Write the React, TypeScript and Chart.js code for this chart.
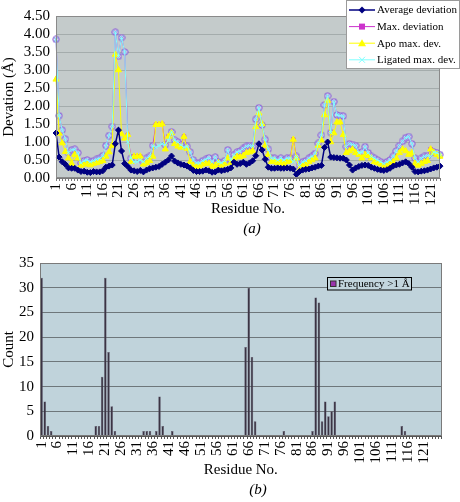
import React, { useEffect, useRef } from 'react';
import { Chart, registerables } from 'chart.js';
Chart.register(...registerables);

// ---------- data ----------
const residues: string[] = Array.from({ length: 124 }, (_, i) => String(i + 1));
const barResidues: string[] = Array.from({ length: 126 }, (_, i) => String(i + 1));

const avgDev: number[] = [
  1.25, 0.58, 0.45, 0.38, 0.28, 0.27, 0.27, 0.22, 0.18, 0.19,
  0.16, 0.15, 0.18, 0.17, 0.17, 0.20, 0.30, 0.33, 0.36, 0.95,
  1.33, 0.75, 0.40, 0.32, 0.22, 0.20, 0.18, 0.21, 0.17, 0.22,
  0.26, 0.28, 0.30, 0.32, 0.38, 0.44, 0.50, 0.61, 0.47, 0.42,
  0.38, 0.36, 0.33, 0.28, 0.21, 0.18, 0.18, 0.19, 0.22, 0.20,
  0.16, 0.17, 0.22, 0.20, 0.22, 0.24, 0.28, 0.44, 0.38, 0.40,
  0.44, 0.38, 0.42, 0.48, 0.62, 0.95, 0.78, 0.52, 0.30, 0.27,
  0.27, 0.28, 0.27, 0.27, 0.28, 0.27, 0.25, 0.10, 0.18, 0.22,
  0.24, 0.25, 0.28, 0.30, 0.33, 0.35, 0.85, 1.00, 0.58, 0.57,
  0.56, 0.55, 0.55, 0.50, 0.36, 0.22, 0.28, 0.32, 0.35, 0.36,
  0.35, 0.30, 0.27, 0.24, 0.22, 0.21, 0.23, 0.27, 0.33, 0.36,
  0.38, 0.42, 0.45, 0.40, 0.30, 0.18, 0.17, 0.19, 0.20, 0.22,
  0.25, 0.28, 0.30, 0.33,
];

const maxDev: number[] = [
  3.85, 1.73, 1.33, 1.08, 0.70, 0.78, 0.80, 0.70, 0.42, 0.48,
  0.50, 0.45, 0.48, 0.52, 0.55, 0.62, 0.90, 1.18, 1.43, 4.05,
  3.38, 3.90, 3.50, 1.20, 0.55, 0.60, 0.60, 0.60, 0.45, 0.55,
  0.60, 0.90, 1.48, 1.48, 1.50, 0.92, 1.15, 1.28, 1.05, 1.00,
  0.92, 1.15, 0.88, 0.72, 0.50, 0.42, 0.42, 0.48, 0.52, 0.56,
  0.45, 0.58, 0.45, 0.42, 0.48, 0.78, 0.50, 0.65, 0.72, 0.75,
  0.82, 0.88, 0.90, 0.88, 1.63, 1.95, 1.47, 1.07, 0.80, 0.55,
  0.55, 0.50, 0.55, 0.50, 0.55, 0.55, 1.07, 0.60, 0.35, 0.45,
  0.48, 0.55, 0.60, 0.68, 0.96, 1.19, 2.03, 2.28, 1.26, 2.12,
  1.75, 1.73, 1.72, 0.87, 0.95, 0.93, 0.90, 0.70, 0.72, 0.87,
  0.70, 0.60, 0.55, 0.50, 0.45, 0.40, 0.45, 0.50, 0.60, 0.75,
  0.90, 1.02, 1.12, 1.15, 0.95, 0.55, 0.45, 0.55, 0.60, 0.62,
  0.80, 0.72, 0.70, 0.65,
];

const apoDev: number[] = [
  2.74, 1.24, 0.97, 0.73, 0.55, 0.40, 0.65, 0.55, 0.35, 0.38,
  0.40, 0.36, 0.40, 0.42, 0.45, 0.48, 0.60, 0.72, 0.90, 3.43,
  3.00, 1.22, 1.10, 1.20, 0.45, 0.60, 0.60, 0.60, 0.38, 0.42,
  0.48, 0.60, 1.48, 1.48, 1.50, 0.80, 1.15, 1.25, 0.95, 0.88,
  0.85, 1.15, 0.82, 0.45, 0.35, 0.32, 0.33, 0.38, 0.42, 0.40,
  0.32, 0.35, 0.42, 0.35, 0.40, 0.55, 0.42, 0.55, 0.60, 0.58,
  0.62, 0.70, 0.72, 0.75, 1.42, 1.80, 1.50, 0.90, 0.65, 0.45,
  0.48, 0.42, 0.45, 0.40, 0.45, 0.48, 1.07, 0.55, 0.22, 0.35,
  0.38, 0.45, 0.50, 0.55, 0.90, 1.05, 1.75, 2.15, 1.00, 1.25,
  1.55, 1.55, 1.20, 0.70, 0.75, 0.80, 0.70, 0.65, 0.55, 0.65,
  0.62, 0.55, 0.45, 0.42, 0.38, 0.30, 0.35, 0.40, 0.45, 0.55,
  0.70, 0.80, 0.75, 0.65, 0.70, 0.40, 0.35, 0.40, 0.45, 0.48,
  0.80, 0.70, 0.65, 0.60,
];

const ligDev: number[] = [
  3.85, 1.73, 1.33, 1.08, 0.70, 0.78, 0.80, 0.70, 0.42, 0.48,
  0.50, 0.45, 0.48, 0.52, 0.55, 0.62, 0.90, 1.18, 1.43, 4.05,
  3.38, 3.90, 3.50, 1.00, 0.55, 0.45, 0.45, 0.50, 0.45, 0.55,
  0.60, 0.90, 0.85, 0.90, 0.95, 0.92, 1.05, 1.28, 1.05, 1.00,
  0.92, 0.85, 0.88, 0.72, 0.50, 0.42, 0.42, 0.48, 0.52, 0.56,
  0.45, 0.58, 0.45, 0.42, 0.48, 0.78, 0.50, 0.65, 0.72, 0.75,
  0.82, 0.88, 0.90, 0.88, 1.63, 1.95, 1.47, 1.07, 0.80, 0.55,
  0.55, 0.50, 0.55, 0.50, 0.55, 0.55, 0.45, 0.60, 0.35, 0.45,
  0.48, 0.55, 0.60, 0.68, 0.96, 1.19, 2.03, 2.28, 1.26, 2.12,
  1.75, 1.73, 1.72, 0.87, 0.95, 0.93, 0.90, 0.70, 0.72, 0.87,
  0.70, 0.60, 0.55, 0.50, 0.45, 0.40, 0.45, 0.50, 0.60, 0.75,
  0.90, 1.02, 1.12, 1.15, 0.95, 0.55, 0.45, 0.55, 0.60, 0.62,
  0.60, 0.72, 0.70, 0.65,
];

const countData: number[] = [
  32, 7, 2, 1, 0, 0, 0, 0, 0, 0,
  0, 0, 0, 0, 0, 0, 0, 2, 2, 12,
  32, 17, 6, 1, 0, 0, 0, 0, 0, 0,
  0, 0, 1, 1, 1, 0, 1, 8, 2, 0,
  0, 1, 0, 0, 0, 0, 0, 0, 0, 0,
  0, 0, 0, 0, 0, 0, 0, 0, 0, 0,
  0, 0, 0, 0, 18, 30, 16, 3, 0, 0,
  0, 0, 0, 0, 0, 0, 1, 0, 0, 0,
  0, 0, 0, 0, 0, 1, 28, 27, 3, 7,
  4, 5, 7, 0, 0, 0, 0, 0, 0, 0,
  0, 0, 0, 0, 0, 0, 0, 0, 0, 0,
  0, 0, 0, 2, 1, 0, 0, 0, 0, 0,
  0, 0, 0, 0, 0, 0,
];

const yTicksA: number[] = [0, 0.5, 1, 1.5, 2, 2.5, 3, 3.5, 4, 4.5];
const yTicksB: number[] = [0, 5, 10, 15, 20, 25, 30, 35];

const legendA = ['Average deviation', 'Max. deviation', 'Apo max. dev.', 'Ligated max. dev.'];
const legendB = 'Frequency >1 Å';

// ---------- style ----------
const SERIF = '"Liberation Serif", "Times New Roman", serif';
const C_AVG = '#000080';
const C_MAX = '#CC33CC';
const C_APO = '#FFFF00';
const C_LIG = '#80FFFF';
const C_OT = '#8B5CD6';

function makeOtimes(): HTMLCanvasElement {
  const c = document.createElement('canvas');
  c.width = 8;
  c.height = 8;
  const g = c.getContext('2d')!;
  g.strokeStyle = C_OT;
  g.lineWidth = 1;
  g.fillStyle = 'rgba(225,215,250,0.6)';
  g.beginPath();
  g.arc(4, 4, 3.2, 0, Math.PI * 2);
  g.fill();
  g.stroke();
  g.beginPath();
  g.moveTo(2, 2);
  g.lineTo(6, 6);
  g.moveTo(6, 2);
  g.lineTo(2, 6);
  g.stroke();
  return c;
}

function areaPlugin(id: string, bg: string, border: string) {
  return {
    id,
    beforeDraw(chart: any) {
      const { ctx, chartArea: a } = chart;
      ctx.save();
      ctx.fillStyle = bg;
      ctx.fillRect(a.left, a.top, a.right - a.left, a.bottom - a.top);
      ctx.restore();
    },
    afterDatasetsDraw(chart: any) {
      const { ctx, chartArea: a } = chart;
      ctx.save();
      ctx.strokeStyle = border;
      ctx.lineWidth = 1;
      ctx.strokeRect(Math.round(a.left) + 0.5, Math.round(a.top) + 0.5, Math.round(a.right - a.left) - 1, Math.round(a.bottom - a.top) - 1);
      ctx.restore();
    },
  };
}

function drawMarker(ctx: CanvasRenderingContext2D, kind: string, x: number, y: number, color: string) {
  ctx.save();
  ctx.fillStyle = color;
  ctx.strokeStyle = color;
  ctx.lineWidth = 1;
  ctx.beginPath();
  if (kind === 'diamond') {
    ctx.moveTo(x, y - 3.5); ctx.lineTo(x + 3.5, y); ctx.lineTo(x, y + 3.5); ctx.lineTo(x - 3.5, y); ctx.closePath(); ctx.fill();
  } else if (kind === 'square') {
    ctx.rect(x - 3, y - 3, 6, 6); ctx.fill();
  } else if (kind === 'triangle') {
    ctx.moveTo(x, y - 4); ctx.lineTo(x + 4, y + 3); ctx.lineTo(x - 4, y + 3); ctx.closePath(); ctx.fill();
  } else {
    ctx.moveTo(x - 3, y - 3); ctx.lineTo(x + 3, y + 3); ctx.moveTo(x + 3, y - 3); ctx.lineTo(x - 3, y + 3); ctx.stroke();
  }
  ctx.restore();
}

const legendPluginA = {
  id: 'legendA',
  afterDraw(chart: any) {
    const ctx: CanvasRenderingContext2D = chart.ctx;
    ctx.save();
    ctx.fillStyle = '#ffffff';
    ctx.strokeStyle = '#9a9a9a';
    ctx.lineWidth = 1;
    ctx.fillRect(346.5, 0.5, 113, 68);
    ctx.strokeRect(346.5, 0.5, 113, 68);
    const colors = [C_AVG, C_MAX, C_APO, C_LIG];
    const kinds = ['diamond', 'square', 'triangle', 'x'];
    legendA.forEach((t, i) => {
      const y = 10 + i * 16.6;
      ctx.strokeStyle = colors[i];
      ctx.lineWidth = i === 0 ? 1.5 : 1;
      ctx.beginPath();
      ctx.moveTo(349, y);
      ctx.lineTo(375, y);
      ctx.stroke();
      drawMarker(ctx, kinds[i], 362, y, colors[i]);
      ctx.fillStyle = '#000';
      ctx.font = `11px ${SERIF}`;
      ctx.textAlign = 'left';
      ctx.textBaseline = 'middle';
      ctx.fillText(t, 377, y + 0.5);
    });
    ctx.restore();
  },
};

const legendPluginB = {
  id: 'legendB',
  afterDraw(chart: any) {
    const ctx: CanvasRenderingContext2D = chart.ctx;
    ctx.save();
    ctx.fillStyle = '#C2D5DD';
    ctx.strokeStyle = '#000';
    ctx.lineWidth = 1;
    ctx.fillRect(327.5, 32.5, 84, 12.5);
    ctx.strokeRect(327.5, 32.5, 84, 12.5);
    ctx.fillStyle = '#9933AA';
    ctx.fillRect(330.5, 36, 5.5, 5.5);
    ctx.strokeStyle = '#333';
    ctx.strokeRect(330.5, 36, 5.5, 5.5);
    ctx.fillStyle = '#000';
    ctx.font = `11px ${SERIF}`;
    ctx.textAlign = 'left';
    ctx.textBaseline = 'middle';
    ctx.fillText(legendB, 338, 39);
    ctx.restore();
  },
};

export default function App() {
  const refA = useRef<HTMLCanvasElement>(null);
  const refB = useRef<HTMLCanvasElement>(null);

  useEffect(() => {
    const otimes = makeOtimes();
    const tickFont = { family: SERIF, size: 15 };
    const titleFont = { family: SERIF, size: 15 };

    const chartA = new Chart(refA.current!, {
      type: 'line',
      data: {
        labels: residues,
        datasets: [
          {
            label: legendA[0], data: avgDev, borderColor: C_AVG, backgroundColor: C_AVG,
            borderWidth: 1.5, pointStyle: 'rectRot', pointRadius: 3, pointBorderWidth: 1, order: 0,
          },
          {
            label: legendA[1], data: maxDev, borderColor: C_MAX, backgroundColor: C_MAX,
            borderWidth: 1, pointRadius: 2.5, pointBorderWidth: 1, order: 3,
            pointStyle: (c: any) => (maxDev[c.dataIndex] === ligDev[c.dataIndex] ? otimes : 'rect'),
          },
          {
            label: legendA[2], data: apoDev, borderColor: C_APO, backgroundColor: C_APO,
            borderWidth: 1, pointStyle: 'triangle', pointRadius: 3.5, pointBorderWidth: 1, order: 2,
          },
          {
            label: legendA[3], data: ligDev, borderColor: C_LIG, backgroundColor: C_LIG,
            borderWidth: 1, pointStyle: 'crossRot', pointRadius: 2.5, pointBorderWidth: 1, order: 1,
          },
        ],
      } as any,
      options: {
        responsive: false,
        animation: false,
        events: [],
        layout: { padding: { top: 16, right: 12, left: 0, bottom: 22 } },
        plugins: { legend: { display: false }, tooltip: { enabled: false } },
        scales: {
          x: {
            type: 'category',
            offset: false,
            grid: { display: true, drawOnChartArea: false, drawTicks: true, tickLength: 3, color: '#7a7a7a' },
            border: { display: true, color: '#7a7a7a' },
            ticks: {
              autoSkip: false, minRotation: 90, maxRotation: 90, padding: 2, color: '#000', font: tickFont,
              callback: (_v: any, i: number) => (i % 5 === 0 ? residues[i] : ''),
            },
            title: { display: true, text: 'Residue No.', padding: 0, color: '#000', font: titleFont },
            afterFit: (s: any) => { s.height = 40; },
          },
          y: {
            min: 0, max: 4.5,
            afterBuildTicks: (s: any) => { s.ticks = yTicksA.map((v) => ({ value: v })); },
            ticks: { autoSkip: false, padding: 6, color: '#000', font: tickFont, callback: (v: any) => Number(v).toFixed(2) },
            grid: { color: '#A4ACAC', drawTicks: false },
            border: { display: true, color: '#7a7a7a' },
            title: { display: true, text: 'Devation (Å)', padding: 0, color: '#000', font: titleFont },
            afterFit: (s: any) => { s.width = 56; },
          },
        },
      } as any,
      plugins: [areaPlugin('areaA', '#C4CBCB', '#8a8a8a'), legendPluginA],
    });

    const chartB = new Chart(refB.current!, {
      type: 'bar',
      data: {
        labels: barResidues,
        datasets: [
          {
            label: legendB, data: countData, backgroundColor: '#3B3444', borderColor: '#5E5468',
            borderWidth: 0.5, barPercentage: 0.8, categoryPercentage: 1,
          },
        ],
      },
      options: {
        responsive: false,
        animation: false,
        events: [],
        layout: { padding: { top: 18, right: 1, left: 0, bottom: 23 } },
        plugins: { legend: { display: false }, tooltip: { enabled: false } },
        scales: {
          x: {
            type: 'category',
            offset: true,
            grid: { display: true, drawOnChartArea: false, drawTicks: true, tickLength: 3, color: '#555' },
            border: { display: true, color: '#555' },
            ticks: {
              autoSkip: false, minRotation: 90, maxRotation: 90, padding: 2, color: '#000', font: tickFont,
              callback: (_v: any, i: number) => (i % 5 === 0 && i <= 120 ? barResidues[i] : ''),
            },
            title: { display: true, text: 'Residue No.', padding: 0, color: '#000', font: titleFont },
            afterFit: (s: any) => { s.height = 43; },
          },
          y: {
            min: 0, max: 35,
            afterBuildTicks: (s: any) => { s.ticks = yTicksB.map((v) => ({ value: v })); },
            ticks: { autoSkip: false, padding: 6, color: '#000', font: tickFont },
            grid: { color: '#6E777B', drawTicks: false },
            border: { display: true, color: '#6E777B' },
            title: { display: true, text: 'Count', padding: 0, color: '#000', font: titleFont },
            afterFit: (s: any) => { s.width = 40; },
          },
        },
      } as any,
      plugins: [areaPlugin('areaB', '#C0D3DB', '#7a7a7a'), legendPluginB],
    });

    return () => {
      chartA.destroy();
      chartB.destroy();
    };
  }, []);

  const caption: React.CSSProperties = {
    position: 'absolute', width: 100, textAlign: 'center', fontFamily: SERIF,
    fontStyle: 'italic', fontSize: 15, lineHeight: '18px', color: '#000',
  };

  return (
    <div style={{ position: 'absolute', left: 0, top: 0, width: 460, height: 502, background: '#fff', overflow: 'hidden' }}>
      <canvas ref={refA} width={460} height={240} style={{ position: 'absolute', left: 0, top: 0, width: 460, height: 240 }} />
      <div style={{ ...caption, left: 202, top: 219 }}>(a)</div>
      <canvas ref={refB} width={460} height={257} style={{ position: 'absolute', left: 0, top: 245, width: 460, height: 257 }} />
      <div style={{ ...caption, left: 208, top: 480 }}>(b)</div>
    </div>
  );
}
